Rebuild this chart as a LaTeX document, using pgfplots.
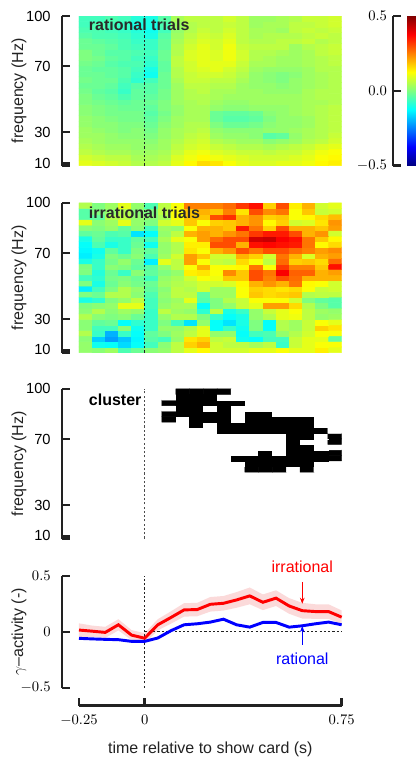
\documentclass[border=0pt]{standalone}
\usepackage[no-math]{fontspec}
\setmainfont{Liberation Sans}
\usepackage{pgfplots}
\usepackage{pgfplotstable}
\pgfplotsset{compat=1.18}
\usetikzlibrary{arrows.meta}

\definecolor{spine}{HTML}{222222}
\definecolor{titlegray}{HTML}{2A2A2A}
\definecolor{bandred}{HTML}{FBDADA}
\definecolor{linered}{HTML}{FF0000}
\definecolor{lineblue}{HTML}{0000FF}

% gamma power, time-frequency cells: c = time bin (0..19, 50 ms each from -0.25 s),
% r = frequency row (0..26, bottom to top, 8.5..100 Hz)
\pgfplotstableread[row sep=\\]{
c r v\\
0 0 0.10\\ 1 0 0.09\\ 2 0 0.08\\ 3 0 0.07\\ 4 0 0.05\\ 5 0 0.05\\ 6 0 0.06\\ 7 0 0.10\\ 8 0 0.13\\ 9 0 0.16\\ 10 0 0.15\\ 11 0 0.12\\ 12 0 0.10\\ 13 0 0.09\\ 14 0 0.09\\ 15 0 0.10\\ 16 0 0.10\\ 17 0 0.11\\ 18 0 0.13\\ 19 0 0.14\\
0 1 0.08\\ 1 1 0.07\\ 2 1 0.06\\ 3 1 0.06\\ 4 1 0.04\\ 5 1 0.04\\ 6 1 0.05\\ 7 1 0.09\\ 8 1 0.11\\ 9 1 0.13\\ 10 1 0.11\\ 11 1 0.10\\ 12 1 0.09\\ 13 1 0.08\\ 14 1 0.08\\ 15 1 0.08\\ 16 1 0.09\\ 17 1 0.10\\ 18 1 0.12\\ 19 1 0.13\\
0 2 0.06\\ 1 2 0.05\\ 2 2 0.04\\ 3 2 0.04\\ 4 2 0.03\\ 5 2 0.03\\ 6 2 0.04\\ 7 2 0.07\\ 8 2 0.10\\ 9 2 0.11\\ 10 2 0.09\\ 11 2 0.08\\ 12 2 0.07\\ 13 2 0.07\\ 14 2 0.06\\ 15 2 0.07\\ 16 2 0.07\\ 17 2 0.09\\ 18 2 0.11\\ 19 2 0.12\\
0 3 0.05\\ 1 3 0.04\\ 2 3 0.03\\ 3 3 0.03\\ 4 3 0.02\\ 5 3 0.02\\ 6 3 0.03\\ 7 3 0.06\\ 8 3 0.08\\ 9 3 0.09\\ 10 3 0.07\\ 11 3 0.06\\ 12 3 0.05\\ 13 3 0.05\\ 14 3 0.04\\ 15 3 0.05\\ 16 3 0.06\\ 17 3 0.07\\ 18 3 0.09\\ 19 3 0.10\\
0 4 0.04\\ 1 4 0.03\\ 2 4 0.02\\ 3 4 0.02\\ 4 4 0.02\\ 5 4 0.01\\ 6 4 0.03\\ 7 4 0.05\\ 8 4 0.07\\ 9 4 0.08\\ 10 4 0.05\\ 11 4 0.04\\ 12 4 0.03\\ 13 4 0.03\\ 14 4 0.01\\ 15 4 0.02\\ 16 4 0.03\\ 17 4 0.05\\ 18 4 0.06\\ 19 4 0.08\\
0 5 0.03\\ 1 5 0.03\\ 2 5 0.02\\ 3 5 0.01\\ 4 5 0.01\\ 5 5 0.00\\ 6 5 0.02\\ 7 5 0.04\\ 8 5 0.06\\ 9 5 0.07\\ 10 5 0.03\\ 11 5 0.02\\ 12 5 0.02\\ 13 5 0.01\\ 14 5 -0.04\\ 15 5 -0.03\\ 16 5 0.02\\ 17 5 0.04\\ 18 5 0.05\\ 19 5 0.07\\
0 6 0.03\\ 1 6 0.02\\ 2 6 0.01\\ 3 6 0.00\\ 4 6 0.01\\ 5 6 -0.01\\ 6 6 0.02\\ 7 6 0.04\\ 8 6 0.05\\ 9 6 0.06\\ 10 6 0.02\\ 11 6 0.01\\ 12 6 0.01\\ 13 6 0.01\\ 14 6 0.02\\ 15 6 0.02\\ 16 6 0.03\\ 17 6 0.04\\ 18 6 0.05\\ 19 6 0.06\\
0 7 0.02\\ 1 7 0.01\\ 2 7 0.01\\ 3 7 0.00\\ 4 7 0.00\\ 5 7 -0.02\\ 6 7 0.01\\ 7 7 0.03\\ 8 7 0.05\\ 9 7 0.05\\ 10 7 0.00\\ 11 7 -0.02\\ 12 7 -0.02\\ 13 7 -0.01\\ 14 7 0.01\\ 15 7 0.02\\ 16 7 0.02\\ 17 7 0.03\\ 18 7 0.05\\ 19 7 0.06\\
0 8 0.02\\ 1 8 0.01\\ 2 8 0.00\\ 3 8 -0.01\\ 4 8 -0.01\\ 5 8 -0.03\\ 6 8 0.00\\ 7 8 0.03\\ 8 8 0.04\\ 9 8 0.04\\ 10 8 -0.02\\ 11 8 -0.04\\ 12 8 -0.04\\ 13 8 -0.03\\ 14 8 0.00\\ 15 8 0.02\\ 16 8 0.02\\ 17 8 0.03\\ 18 8 0.05\\ 19 8 0.06\\
0 9 0.01\\ 1 9 0.00\\ 2 9 -0.01\\ 3 9 -0.01\\ 4 9 -0.01\\ 5 9 -0.04\\ 6 9 -0.01\\ 7 9 0.02\\ 8 9 0.04\\ 9 9 0.04\\ 10 9 -0.02\\ 11 9 -0.03\\ 12 9 -0.03\\ 13 9 -0.02\\ 14 9 0.01\\ 15 9 0.02\\ 16 9 0.03\\ 17 9 0.04\\ 18 9 0.05\\ 19 9 0.06\\
0 10 0.01\\ 1 10 0.00\\ 2 10 -0.01\\ 3 10 -0.02\\ 4 10 -0.02\\ 5 10 -0.03\\ 6 10 0.00\\ 7 10 0.02\\ 8 10 0.04\\ 9 10 0.04\\ 10 10 0.02\\ 11 10 0.01\\ 12 10 0.01\\ 13 10 0.02\\ 14 10 0.02\\ 15 10 0.02\\ 16 10 0.03\\ 17 10 0.04\\ 18 10 0.05\\ 19 10 0.06\\
0 11 0.00\\ 1 11 -0.01\\ 2 11 -0.02\\ 3 11 -0.03\\ 4 11 -0.02\\ 5 11 -0.02\\ 6 11 0.00\\ 7 11 0.03\\ 8 11 0.04\\ 9 11 0.05\\ 10 11 0.03\\ 11 11 0.02\\ 12 11 0.02\\ 13 11 0.03\\ 14 11 0.03\\ 15 11 0.03\\ 16 11 0.03\\ 17 11 0.04\\ 18 11 0.04\\ 19 11 0.05\\
0 12 0.00\\ 1 12 -0.02\\ 2 12 -0.03\\ 3 12 -0.05\\ 4 12 -0.03\\ 5 12 -0.03\\ 6 12 -0.01\\ 7 12 0.03\\ 8 12 0.05\\ 9 12 0.05\\ 10 12 0.04\\ 11 12 0.03\\ 12 12 0.03\\ 13 12 0.03\\ 14 12 0.03\\ 15 12 0.03\\ 16 12 0.03\\ 17 12 0.04\\ 18 12 0.05\\ 19 12 0.05\\
0 13 -0.01\\ 1 13 -0.03\\ 2 13 -0.04\\ 3 13 -0.07\\ 4 13 -0.03\\ 5 13 -0.04\\ 6 13 -0.01\\ 7 13 0.03\\ 8 13 0.05\\ 9 13 0.06\\ 10 13 0.04\\ 11 13 0.04\\ 12 13 0.03\\ 13 13 0.03\\ 14 13 0.02\\ 15 13 0.02\\ 16 13 0.02\\ 17 13 0.04\\ 18 13 0.05\\ 19 13 0.05\\
0 14 -0.02\\ 1 14 -0.02\\ 2 14 -0.03\\ 3 14 -0.06\\ 4 14 -0.04\\ 5 14 -0.04\\ 6 14 -0.02\\ 7 14 0.03\\ 8 14 0.06\\ 9 14 0.06\\ 10 14 0.05\\ 11 14 0.05\\ 12 14 0.03\\ 13 14 0.02\\ 14 14 0.02\\ 15 14 0.01\\ 16 14 0.02\\ 17 14 0.03\\ 18 14 0.04\\ 19 14 0.05\\
0 15 -0.01\\ 1 15 -0.02\\ 2 15 -0.02\\ 3 15 -0.05\\ 4 15 -0.08\\ 5 15 -0.06\\ 6 15 -0.02\\ 7 15 0.04\\ 8 15 0.07\\ 9 15 0.07\\ 10 15 0.06\\ 11 15 0.06\\ 12 15 0.04\\ 13 15 0.02\\ 14 15 0.01\\ 15 15 0.00\\ 16 15 0.02\\ 17 15 0.03\\ 18 15 0.04\\ 19 15 0.05\\
0 16 -0.02\\ 1 16 -0.02\\ 2 16 -0.03\\ 3 16 -0.04\\ 4 16 -0.07\\ 5 16 -0.11\\ 6 16 -0.02\\ 7 16 0.05\\ 8 16 0.07\\ 9 16 0.08\\ 10 16 0.08\\ 11 16 0.07\\ 12 16 0.05\\ 13 16 0.02\\ 14 16 0.01\\ 15 16 0.00\\ 16 16 0.01\\ 17 16 0.03\\ 18 16 0.04\\ 19 16 0.05\\
0 17 -0.02\\ 1 17 -0.03\\ 2 17 -0.03\\ 3 17 -0.04\\ 4 17 -0.06\\ 5 17 -0.10\\ 6 17 -0.03\\ 7 17 0.05\\ 8 17 0.08\\ 9 17 0.09\\ 10 17 0.10\\ 11 17 0.08\\ 12 17 0.06\\ 13 17 0.03\\ 14 17 0.02\\ 15 17 0.02\\ 16 17 0.02\\ 17 17 0.03\\ 18 17 0.05\\ 19 17 0.05\\
0 18 -0.01\\ 1 18 -0.02\\ 2 18 -0.04\\ 3 18 -0.05\\ 4 18 -0.05\\ 5 18 -0.08\\ 6 18 -0.03\\ 7 18 0.06\\ 8 18 0.08\\ 9 18 0.10\\ 10 18 0.10\\ 11 18 0.10\\ 12 18 0.07\\ 13 18 0.04\\ 14 18 0.04\\ 15 18 0.03\\ 16 18 0.03\\ 17 18 0.04\\ 18 18 0.05\\ 19 18 0.06\\
0 19 0.00\\ 1 19 -0.01\\ 2 19 -0.03\\ 3 19 -0.04\\ 4 19 -0.06\\ 5 19 -0.07\\ 6 19 -0.02\\ 7 19 0.06\\ 8 19 0.09\\ 9 19 0.10\\ 10 19 0.09\\ 11 19 0.11\\ 12 19 0.08\\ 13 19 0.05\\ 14 19 0.04\\ 15 19 0.03\\ 16 19 0.03\\ 17 19 0.04\\ 18 19 0.05\\ 19 19 0.06\\
0 20 0.00\\ 1 20 -0.02\\ 2 20 -0.04\\ 3 20 -0.04\\ 4 20 -0.05\\ 5 20 -0.06\\ 6 20 -0.02\\ 7 20 0.05\\ 8 20 0.09\\ 9 20 0.10\\ 10 20 0.09\\ 11 20 0.11\\ 12 20 0.08\\ 13 20 0.05\\ 14 20 0.05\\ 15 20 0.04\\ 16 20 0.03\\ 17 20 0.04\\ 18 20 0.06\\ 19 20 0.07\\
0 21 -0.02\\ 1 21 -0.02\\ 2 21 -0.03\\ 3 21 -0.05\\ 4 21 -0.06\\ 5 21 -0.07\\ 6 21 -0.03\\ 7 21 0.05\\ 8 21 0.08\\ 9 21 0.10\\ 10 21 0.08\\ 11 21 0.11\\ 12 21 0.07\\ 13 21 0.06\\ 14 21 0.06\\ 15 21 0.06\\ 16 21 0.03\\ 17 21 0.05\\ 18 21 0.06\\ 19 21 0.07\\
0 22 -0.02\\ 1 22 -0.03\\ 2 22 -0.04\\ 3 22 -0.05\\ 4 22 -0.07\\ 5 22 -0.07\\ 6 22 -0.03\\ 7 22 0.04\\ 8 22 0.07\\ 9 22 0.09\\ 10 22 0.08\\ 11 22 0.10\\ 12 22 0.06\\ 13 22 0.05\\ 14 22 0.05\\ 15 22 0.06\\ 16 22 0.06\\ 17 22 0.07\\ 18 22 0.05\\ 19 22 0.06\\
0 23 -0.04\\ 1 23 -0.05\\ 2 23 -0.05\\ 3 23 -0.06\\ 4 23 -0.08\\ 5 23 -0.10\\ 6 23 -0.04\\ 7 23 0.03\\ 8 23 0.06\\ 9 23 0.08\\ 10 23 0.07\\ 11 23 0.09\\ 12 23 0.06\\ 13 23 0.04\\ 14 23 0.05\\ 15 23 0.05\\ 16 23 0.05\\ 17 23 0.06\\ 18 23 0.07\\ 19 23 0.06\\
0 24 -0.05\\ 1 24 -0.05\\ 2 24 -0.06\\ 3 24 -0.07\\ 4 24 -0.09\\ 5 24 -0.11\\ 6 24 -0.06\\ 7 24 0.02\\ 8 24 0.05\\ 9 24 0.07\\ 10 24 0.06\\ 11 24 0.08\\ 12 24 0.06\\ 13 24 0.04\\ 14 24 0.04\\ 15 24 0.03\\ 16 24 0.06\\ 17 24 0.07\\ 18 24 0.06\\ 19 24 0.07\\
0 25 -0.06\\ 1 25 -0.05\\ 2 25 -0.06\\ 3 25 -0.07\\ 4 25 -0.10\\ 5 25 -0.10\\ 6 25 -0.05\\ 7 25 0.03\\ 8 25 0.05\\ 9 25 0.06\\ 10 25 0.06\\ 11 25 0.07\\ 12 25 0.06\\ 13 25 0.03\\ 14 25 0.04\\ 15 25 0.04\\ 16 25 0.06\\ 17 25 0.06\\ 18 25 0.07\\ 19 25 0.08\\
0 26 -0.06\\ 1 26 -0.06\\ 2 26 -0.05\\ 3 26 -0.06\\ 4 26 -0.09\\ 5 26 -0.10\\ 6 26 -0.04\\ 7 26 0.04\\ 8 26 0.06\\ 9 26 0.06\\ 10 26 0.06\\ 11 26 0.08\\ 12 26 0.06\\ 13 26 0.03\\ 14 26 0.03\\ 15 26 0.04\\ 16 26 0.05\\ 17 26 0.07\\ 18 26 0.07\\ 19 26 0.08\\
}\rationaltf

\pgfplotstableread[row sep=\\]{
c r v\\
0 0 0.02\\ 1 0 0.01\\ 2 0 0.03\\ 3 0 -0.05\\ 4 0 -0.02\\ 5 0 0.01\\ 6 0 0.02\\ 7 0 0.06\\ 8 0 0.10\\ 9 0 0.13\\ 10 0 0.08\\ 11 0 0.08\\ 12 0 0.08\\ 13 0 0.10\\ 14 0 0.10\\ 15 0 0.12\\ 16 0 0.10\\ 17 0 0.10\\ 18 0 0.14\\ 19 0 0.10\\
0 1 0.02\\ 1 1 -0.11\\ 2 1 -0.12\\ 3 1 -0.16\\ 4 1 -0.12\\ 5 1 -0.06\\ 6 1 0.01\\ 7 1 0.06\\ 8 1 0.17\\ 9 1 0.20\\ 10 1 0.08\\ 11 1 0.06\\ 12 1 0.06\\ 13 1 0.04\\ 14 1 0.06\\ 15 1 -0.07\\ 16 1 0.07\\ 17 1 0.10\\ 18 1 0.12\\ 19 1 0.12\\
0 2 0.01\\ 1 2 -0.17\\ 2 2 -0.22\\ 3 2 -0.18\\ 4 2 -0.13\\ 5 2 -0.04\\ 6 2 -0.06\\ 7 2 0.02\\ 8 2 0.15\\ 9 2 0.17\\ 10 2 0.06\\ 11 2 0.07\\ 12 2 -0.11\\ 13 2 -0.12\\ 14 2 -0.06\\ 15 2 -0.06\\ 16 2 0.07\\ 17 2 0.10\\ 18 2 0.10\\ 19 2 -0.03\\
0 3 0.05\\ 1 3 -0.07\\ 2 3 -0.20\\ 3 3 -0.07\\ 4 3 -0.12\\ 5 3 -0.03\\ 6 3 0.00\\ 7 3 0.03\\ 8 3 0.06\\ 9 3 0.10\\ 10 3 0.02\\ 11 3 0.02\\ 12 3 -0.12\\ 13 3 -0.06\\ 14 3 -0.05\\ 15 3 0.02\\ 16 3 0.05\\ 17 3 0.08\\ 18 3 0.12\\ 19 3 0.12\\
0 4 0.01\\ 1 4 -0.06\\ 2 4 -0.06\\ 3 4 0.01\\ 4 4 -0.11\\ 5 4 -0.07\\ 6 4 0.02\\ 7 4 0.02\\ 8 4 0.05\\ 9 4 0.10\\ 10 4 -0.12\\ 11 4 -0.07\\ 12 4 -0.11\\ 13 4 0.00\\ 14 4 -0.12\\ 15 4 0.05\\ 16 4 0.03\\ 17 4 0.07\\ 18 4 0.17\\ 19 4 0.15\\
0 5 0.01\\ 1 5 -0.03\\ 2 5 -0.02\\ 3 5 -0.12\\ 4 5 -0.08\\ 5 5 -0.07\\ 6 5 0.00\\ 7 5 -0.06\\ 8 5 -0.15\\ 9 5 0.02\\ 10 5 -0.12\\ 11 5 -0.15\\ 12 5 -0.10\\ 13 5 0.00\\ 14 5 -0.12\\ 15 5 0.05\\ 16 5 0.03\\ 17 5 0.07\\ 18 5 0.12\\ 19 5 0.10\\
0 6 0.05\\ 1 6 0.01\\ 2 6 0.00\\ 3 6 0.01\\ 4 6 -0.02\\ 5 6 -0.07\\ 6 6 0.02\\ 7 6 0.05\\ 8 6 0.05\\ 9 6 0.00\\ 10 6 -0.07\\ 11 6 -0.12\\ 12 6 -0.10\\ 13 6 0.02\\ 14 6 0.05\\ 15 6 0.10\\ 16 6 0.11\\ 17 6 0.06\\ 18 6 0.02\\ 19 6 0.03\\
0 7 0.01\\ 1 7 0.05\\ 2 7 0.01\\ 3 7 0.03\\ 4 7 0.02\\ 5 7 -0.07\\ 6 7 0.06\\ 7 7 0.03\\ 8 7 0.02\\ 9 7 -0.08\\ 10 7 0.06\\ 11 7 -0.10\\ 12 7 -0.07\\ 13 7 0.02\\ 14 7 0.07\\ 15 7 0.10\\ 16 7 0.12\\ 17 7 0.06\\ 18 7 0.03\\ 19 7 0.02\\
0 8 0.00\\ 1 8 0.01\\ 2 8 0.02\\ 3 8 0.10\\ 4 8 0.10\\ 5 8 -0.06\\ 6 8 0.02\\ 7 8 0.04\\ 8 8 0.04\\ 9 8 -0.12\\ 10 8 0.00\\ 11 8 0.02\\ 12 8 0.07\\ 13 8 0.10\\ 14 8 0.22\\ 15 8 0.22\\ 16 8 0.16\\ 17 8 0.05\\ 18 8 0.00\\ 19 8 -0.04\\
0 9 -0.10\\ 1 9 -0.08\\ 2 9 0.00\\ 3 9 0.02\\ 4 9 0.06\\ 5 9 -0.06\\ 6 9 0.01\\ 7 9 0.03\\ 8 9 0.10\\ 9 9 -0.04\\ 10 9 0.00\\ 11 9 0.05\\ 12 9 0.07\\ 13 9 0.12\\ 14 9 0.12\\ 15 9 0.12\\ 16 9 0.08\\ 17 9 0.00\\ 18 9 -0.03\\ 19 9 -0.04\\
0 10 0.00\\ 1 10 -0.02\\ 2 10 0.05\\ 3 10 0.05\\ 4 10 0.01\\ 5 10 -0.05\\ 6 10 0.02\\ 7 10 0.06\\ 8 10 0.06\\ 9 10 -0.03\\ 10 10 0.03\\ 11 10 0.03\\ 12 10 0.12\\ 13 10 0.18\\ 14 10 0.16\\ 15 10 0.17\\ 16 10 0.18\\ 17 10 0.05\\ 18 10 0.06\\ 19 10 0.06\\
0 11 -0.14\\ 1 11 -0.06\\ 2 11 0.00\\ 3 11 0.05\\ 4 11 0.02\\ 5 11 -0.03\\ 6 11 0.01\\ 7 11 0.06\\ 8 11 0.05\\ 9 11 0.08\\ 10 11 0.03\\ 11 11 0.03\\ 12 11 0.12\\ 13 11 0.17\\ 14 11 0.16\\ 15 11 0.15\\ 16 11 0.16\\ 17 11 0.12\\ 18 11 0.07\\ 19 11 0.08\\
0 12 0.00\\ 1 12 -0.10\\ 2 12 -0.02\\ 3 12 0.01\\ 4 12 -0.01\\ 5 12 -0.02\\ 6 12 0.03\\ 7 12 0.05\\ 8 12 0.06\\ 9 12 0.08\\ 10 12 0.08\\ 11 12 0.09\\ 12 12 0.13\\ 13 12 0.20\\ 14 12 0.23\\ 15 12 0.20\\ 16 12 0.26\\ 17 12 0.13\\ 18 12 0.12\\ 19 12 0.08\\
0 13 -0.06\\ 1 13 -0.08\\ 2 13 -0.01\\ 3 13 0.00\\ 4 13 -0.02\\ 5 13 -0.06\\ 6 13 0.02\\ 7 13 0.04\\ 8 13 0.08\\ 9 13 0.12\\ 10 13 0.11\\ 11 13 0.18\\ 12 13 0.18\\ 13 13 0.30\\ 14 13 0.25\\ 15 13 0.30\\ 16 13 0.27\\ 17 13 0.20\\ 18 13 0.20\\ 19 13 0.20\\
0 14 0.00\\ 1 14 -0.09\\ 2 14 -0.02\\ 3 14 -0.07\\ 4 14 0.01\\ 5 14 -0.03\\ 6 14 0.00\\ 7 14 0.02\\ 8 14 0.14\\ 9 14 0.15\\ 10 14 0.12\\ 11 14 0.24\\ 12 14 0.18\\ 13 14 0.30\\ 14 14 0.26\\ 15 14 0.38\\ 16 14 0.28\\ 17 14 0.28\\ 18 14 0.20\\ 19 14 0.22\\
0 15 0.00\\ 1 15 -0.07\\ 2 15 0.01\\ 3 15 0.00\\ 4 15 -0.03\\ 5 15 -0.04\\ 6 15 0.02\\ 7 15 0.06\\ 8 15 0.12\\ 9 15 0.20\\ 10 15 0.12\\ 11 15 0.12\\ 12 15 0.13\\ 13 15 0.26\\ 14 15 0.12\\ 15 15 0.32\\ 16 15 0.25\\ 17 15 0.25\\ 18 15 0.18\\ 19 15 0.36\\
0 16 -0.10\\ 1 16 -0.07\\ 2 16 -0.01\\ 3 16 0.02\\ 4 16 -0.02\\ 5 16 -0.14\\ 6 16 0.10\\ 7 16 0.06\\ 8 16 0.22\\ 9 16 0.12\\ 10 16 0.07\\ 11 16 0.06\\ 12 16 0.16\\ 13 16 0.12\\ 14 16 0.06\\ 15 16 0.27\\ 16 16 0.17\\ 17 16 0.18\\ 18 16 0.16\\ 19 16 0.27\\
0 17 -0.14\\ 1 17 -0.10\\ 2 17 0.00\\ 3 17 -0.02\\ 4 17 0.01\\ 5 17 -0.05\\ 6 17 0.03\\ 7 17 0.08\\ 8 17 0.22\\ 9 17 0.18\\ 10 17 0.08\\ 11 17 0.08\\ 12 17 0.20\\ 13 17 0.17\\ 14 17 0.08\\ 15 17 0.26\\ 16 17 0.20\\ 17 17 0.09\\ 18 17 0.20\\ 19 17 0.22\\
0 18 -0.13\\ 1 18 -0.11\\ 2 18 -0.03\\ 3 18 -0.07\\ 4 18 0.00\\ 5 18 -0.03\\ 6 18 0.02\\ 7 18 0.05\\ 8 18 0.15\\ 9 18 0.12\\ 10 18 0.20\\ 11 18 0.23\\ 12 18 0.30\\ 13 18 0.26\\ 14 18 0.30\\ 15 18 0.30\\ 16 18 0.27\\ 17 18 0.25\\ 18 18 0.22\\ 19 18 0.24\\
0 19 -0.12\\ 1 19 -0.05\\ 2 19 -0.10\\ 3 19 -0.07\\ 4 19 -0.02\\ 5 19 -0.11\\ 6 19 0.02\\ 7 19 0.05\\ 8 19 0.14\\ 9 19 0.14\\ 10 19 0.30\\ 11 19 0.30\\ 12 19 0.20\\ 13 19 0.36\\ 14 19 0.37\\ 15 19 0.36\\ 16 19 0.35\\ 17 19 0.26\\ 18 19 0.13\\ 19 19 0.16\\
0 20 -0.10\\ 1 20 -0.03\\ 2 20 -0.07\\ 3 20 -0.07\\ 4 20 -0.03\\ 5 20 -0.06\\ 6 20 0.04\\ 7 20 0.10\\ 8 20 0.12\\ 9 20 0.22\\ 10 20 0.27\\ 11 20 0.30\\ 12 20 0.30\\ 13 20 0.42\\ 14 20 0.43\\ 15 20 0.38\\ 16 20 0.36\\ 17 20 0.26\\ 18 20 0.18\\ 19 20 0.13\\
0 21 -0.03\\ 1 21 -0.02\\ 2 21 -0.05\\ 3 21 -0.04\\ 4 21 -0.15\\ 5 21 -0.12\\ 6 21 0.02\\ 7 21 0.06\\ 8 21 0.20\\ 9 21 0.22\\ 10 21 0.20\\ 11 21 0.23\\ 12 21 0.26\\ 13 21 0.32\\ 14 21 0.35\\ 15 21 0.35\\ 16 21 0.30\\ 17 21 0.20\\ 18 21 0.23\\ 19 21 0.08\\
0 22 0.01\\ 1 22 0.00\\ 2 22 0.02\\ 3 22 -0.03\\ 4 22 0.01\\ 5 22 -0.06\\ 6 22 0.03\\ 7 22 0.02\\ 8 22 0.12\\ 9 22 0.20\\ 10 22 0.20\\ 11 22 0.18\\ 12 22 0.35\\ 13 22 0.26\\ 14 22 0.17\\ 15 22 0.30\\ 16 22 0.20\\ 17 22 0.20\\ 18 22 0.18\\ 19 22 0.22\\
0 23 0.10\\ 1 23 0.01\\ 2 23 0.03\\ 3 23 0.10\\ 4 23 0.02\\ 5 23 0.00\\ 6 23 0.08\\ 7 23 0.10\\ 8 23 0.18\\ 9 23 0.12\\ 10 23 0.17\\ 11 23 0.18\\ 12 23 0.20\\ 13 23 0.23\\ 14 23 0.13\\ 15 23 0.17\\ 16 23 0.08\\ 17 23 0.09\\ 18 23 0.15\\ 19 23 0.23\\
0 24 -0.04\\ 1 24 -0.03\\ 2 24 0.05\\ 3 24 0.06\\ 4 24 0.02\\ 5 24 0.01\\ 6 24 0.04\\ 7 24 0.12\\ 8 24 0.18\\ 9 24 0.18\\ 10 24 0.30\\ 11 24 0.33\\ 12 24 0.20\\ 13 24 0.23\\ 14 24 0.17\\ 15 24 0.18\\ 16 24 0.12\\ 17 24 0.13\\ 18 24 0.16\\ 19 24 0.19\\
0 25 -0.04\\ 1 25 0.00\\ 2 25 0.02\\ 3 25 0.05\\ 4 25 0.01\\ 5 25 0.00\\ 6 25 0.06\\ 7 25 0.12\\ 8 25 0.18\\ 9 25 0.20\\ 10 25 0.18\\ 11 25 0.25\\ 12 25 0.15\\ 13 25 0.30\\ 14 25 0.24\\ 15 25 0.26\\ 16 25 0.12\\ 17 25 0.18\\ 18 25 0.07\\ 19 25 0.08\\
0 26 0.05\\ 1 26 0.00\\ 2 26 0.03\\ 3 26 0.10\\ 4 26 0.02\\ 5 26 -0.05\\ 6 26 0.06\\ 7 26 0.12\\ 8 26 0.25\\ 9 26 0.25\\ 10 26 0.25\\ 11 26 0.27\\ 12 26 0.32\\ 13 26 0.36\\ 14 26 0.17\\ 15 26 0.30\\ 16 26 0.14\\ 17 26 0.20\\ 18 26 0.08\\ 19 26 0.10\\
}\irrationaltf

% significant cluster: j = time bin of a 19-bin grid (cells 6..18), r = frequency row (12..26)
\pgfplotstableread[row sep=\\]{
j r m\\
6 12 0\\ 7 12 0\\ 8 12 0\\ 9 12 0\\ 10 12 0\\ 11 12 0\\ 12 12 1\\ 13 12 1\\ 14 12 1\\ 15 12 0\\ 16 12 1\\ 17 12 0\\ 18 12 0\\
6 13 0\\ 7 13 0\\ 8 13 0\\ 9 13 0\\ 10 13 0\\ 11 13 0\\ 12 13 1\\ 13 13 1\\ 14 13 1\\ 15 13 1\\ 16 13 1\\ 17 13 0\\ 18 13 0\\
6 14 0\\ 7 14 0\\ 8 14 0\\ 9 14 0\\ 10 14 0\\ 11 14 1\\ 12 14 1\\ 13 14 1\\ 14 14 1\\ 15 14 1\\ 16 14 1\\ 17 14 1\\ 18 14 1\\
6 15 0\\ 7 15 0\\ 8 15 0\\ 9 15 0\\ 10 15 0\\ 11 15 0\\ 12 15 0\\ 13 15 1\\ 14 15 0\\ 15 15 1\\ 16 15 1\\ 17 15 1\\ 18 15 1\\
6 16 0\\ 7 16 0\\ 8 16 0\\ 9 16 0\\ 10 16 0\\ 11 16 0\\ 12 16 0\\ 13 16 0\\ 14 16 0\\ 15 16 1\\ 16 16 1\\ 17 16 0\\ 18 16 0\\
6 17 0\\ 7 17 0\\ 8 17 0\\ 9 17 0\\ 10 17 0\\ 11 17 0\\ 12 17 0\\ 13 17 0\\ 14 17 0\\ 15 17 1\\ 16 17 0\\ 17 17 0\\ 18 17 1\\
6 18 0\\ 7 18 0\\ 8 18 0\\ 9 18 0\\ 10 18 0\\ 11 18 0\\ 12 18 0\\ 13 18 0\\ 14 18 0\\ 15 18 1\\ 16 18 1\\ 17 18 0\\ 18 18 1\\
6 19 0\\ 7 19 0\\ 8 19 0\\ 9 19 0\\ 10 19 1\\ 11 19 1\\ 12 19 1\\ 13 19 1\\ 14 19 1\\ 15 19 1\\ 16 19 1\\ 17 19 1\\ 18 19 0\\
6 20 0\\ 7 20 0\\ 8 20 1\\ 9 20 0\\ 10 20 1\\ 11 20 1\\ 12 20 1\\ 13 20 1\\ 14 20 1\\ 15 20 1\\ 16 20 1\\ 17 20 0\\ 18 20 0\\
6 21 1\\ 7 21 0\\ 8 21 1\\ 9 21 1\\ 10 21 1\\ 11 21 0\\ 12 21 1\\ 13 21 1\\ 14 21 1\\ 15 21 1\\ 16 21 1\\ 17 21 0\\ 18 21 0\\
6 22 1\\ 7 22 1\\ 8 22 1\\ 9 22 1\\ 10 22 1\\ 11 22 0\\ 12 22 1\\ 13 22 1\\ 14 22 0\\ 15 22 0\\ 16 22 0\\ 17 22 0\\ 18 22 0\\
6 23 0\\ 7 23 1\\ 8 23 1\\ 9 23 0\\ 10 23 1\\ 11 23 0\\ 12 23 0\\ 13 23 0\\ 14 23 0\\ 15 23 0\\ 16 23 0\\ 17 23 0\\ 18 23 0\\
6 24 1\\ 7 24 1\\ 8 24 1\\ 9 24 1\\ 10 24 1\\ 11 24 1\\ 12 24 0\\ 13 24 0\\ 14 24 0\\ 15 24 0\\ 16 24 0\\ 17 24 0\\ 18 24 0\\
6 25 0\\ 7 25 1\\ 8 25 1\\ 9 25 1\\ 10 25 0\\ 11 25 0\\ 12 25 0\\ 13 25 0\\ 14 25 0\\ 15 25 0\\ 16 25 0\\ 17 25 0\\ 18 25 0\\
6 26 0\\ 7 26 1\\ 8 26 1\\ 9 26 1\\ 10 26 1\\ 11 26 0\\ 12 26 0\\ 13 26 0\\ 14 26 0\\ 15 26 0\\ 16 26 0\\ 17 26 0\\ 18 26 0\\
}\clustermask

% gamma activity over time: irrational and rational means
\pgfplotstableread{
t      irr     rat
-0.25  0.015  -0.059
-0.20  0.005  -0.064
-0.15 -0.006  -0.068
-0.10  0.062  -0.071
-0.05 -0.030  -0.086
 0.00 -0.058  -0.086
 0.05  0.062  -0.056
 0.10  0.127   0.009
 0.15  0.195   0.062
 0.20  0.198   0.071
 0.25  0.245   0.086
 0.30  0.254   0.112
 0.35  0.284   0.062
 0.40  0.320   0.041
 0.45  0.263   0.083
 0.50  0.300   0.083
 0.55  0.230   0.041
 0.60  0.188   0.053
 0.65  0.180   0.071
 0.70  0.180   0.086
 0.75  0.130   0.062
}\gammaact

% error band of the irrational mean: upper edge forward, lower edge back
\pgfplotstableread{
t      y
-0.25  0.075
-0.20  0.055
-0.15  0.044
-0.10  0.112
-0.05  0.015
 0.00 -0.013
 0.05  0.112
 0.10  0.182
 0.15  0.255
 0.20  0.258
 0.25  0.310
 0.30  0.319
 0.35  0.354
 0.40  0.395
 0.45  0.333
 0.50  0.370
 0.55  0.300
 0.60  0.258
 0.65  0.245
 0.70  0.245
 0.75  0.190
 0.75  0.070
 0.70  0.115
 0.65  0.115
 0.60  0.118
 0.55  0.160
 0.50  0.230
 0.45  0.193
 0.40  0.245
 0.35  0.214
 0.30  0.189
 0.25  0.180
 0.20  0.138
 0.15  0.135
 0.10  0.072
 0.05  0.012
 0.00 -0.103
-0.05 -0.075
-0.10  0.012
-0.15 -0.056
-0.20 -0.045
-0.25 -0.045
}\irrband

\tikzset{
  panel title/.style={anchor=west, font=\fontsize{12}{14}\selectfont\bfseries, text=titlegray},
  zero line/.style={spine, line width=0.8pt, dash pattern=on 1.6pt off 1.6pt},
}

\pgfplotsset{
  spine axis/.style={
    scale only axis,
    axis y line*=left,
    axis y line shift=12.75pt,
    axis line style={line width=2pt, spine},
    tick style={line width=1.8pt, spine},
    major tick length=6pt,
    tick align=inside,
    tick label style={font=\fontsize{11}{13}\selectfont},
    yticklabel style={xshift=-5pt},
    every axis y label/.style={at={(rel axis cs:0,0.5)}, xshift=-45pt, rotate=90,
      anchor=center, font=\fontsize{12}{14}\selectfont, text=spine},
  },
  tf axis/.style={
    spine axis,
    width=197pt, height=112.2pt,
    hide x axis,
    xmin=-0.5, xmax=19.5, ymin=-0.5, ymax=26.5,
    ytick={-0.5,-0.03,5.51,17.47,26.5},
    yticklabels={,10,30,70,100},
    ylabel={frequency (Hz)},
    colormap/jet,
    point meta min=-0.5, point meta max=0.5,
  },
}

\begin{document}
\begin{tikzpicture}
\useasboundingbox (0,0) rectangle (312pt,568.5pt);

% rational trials
\begin{axis}[
  tf axis,
  at={(59.25pt,444.3pt)}, anchor=south west,
  colorbar,
  colorbar style={
    at={(parent axis.north east)}, anchor=north west, xshift=40.5pt,
    width=6.75pt,
    axis x line=none,
    axis y line*=left, axis y line shift=10.5pt,
    axis line style={line width=2pt, spine},
    tick style={line width=1.8pt, spine},
    major tick length=6pt, tick align=inside,
    ytick={-0.5,0,0.5},
    yticklabel pos=left,
    yticklabel style={font=\fontsize{11}{13}\selectfont, xshift=-1pt,
      /pgf/number format/.cd, fixed, fixed zerofill, precision=1},
  },
]
\addplot[matrix plot*, mesh/cols=20, point meta=explicit]
  table[x=c, y=r, meta=v] {\rationaltf};
\draw[zero line] (axis cs:4.5,-0.5) -- (axis cs:4.5,26.5);
\node[panel title] at (rel axis cs:0.02,0.94) {rational trials};
\end{axis}

% irrational trials
\begin{axis}[
  tf axis,
  at={(59.25pt,304.1pt)}, anchor=south west,
]
\addplot[matrix plot*, mesh/cols=20, point meta=explicit]
  table[x=c, y=r, meta=v] {\irrationaltf};
\draw[zero line] (axis cs:4.5,-0.5) -- (axis cs:4.5,26.5);
\node[panel title] at (rel axis cs:0.02,0.935) {irrational trials};
\end{axis}

% cluster mask
\begin{axis}[
  tf axis,
  at={(59.25pt,164.6pt)}, anchor=south west,
  xmin=-0.5, xmax=18.5,
  colormap={mask}{color=(white) color=(black)},
  point meta min=0, point meta max=1,
]
\addplot[matrix plot*, mesh/cols=13, point meta=explicit]
  table[x=j, y=r, meta=m] {\clustermask};
\draw[zero line, black!70] (axis cs:4.25,-0.5) -- (axis cs:4.25,26.5);
\node[panel title, text=black] at (rel axis cs:0.02,0.93) {cluster};
\end{axis}

% gamma activity
\begin{axis}[
  spine axis,
  at={(59.25pt,52.7pt)}, anchor=south west,
  width=197pt, height=84pt,
  axis x line*=bottom, axis x line shift=13.5pt,
  xmin=-0.25, xmax=0.75, ymin=-0.5, ymax=0.5,
  xtick={-0.25,0,0.75}, ytick={-0.5,0,0.5},
  xticklabel style={yshift=-3.3pt},
  xlabel={time relative to show card (s)},
  ylabel={$\gamma$--activity (-)},
  every axis x label/.style={at={(rel axis cs:0.5,0)}, yshift=-46pt, anchor=center,
    font=\fontsize{12}{14}\selectfont, text=spine},
  clip=false,
]
\addplot[fill=bandred, draw=none] table[x=t, y=y] {\irrband} -- cycle;
\draw[zero line] (axis cs:0,-0.5) -- (axis cs:0,0.5);
\draw[zero line] (axis cs:0,0) -- (axis cs:0.75,0);
\addplot[linered, line width=2.2pt] table[x=t, y=irr] {\gammaact};
\addplot[lineblue, line width=2.2pt] table[x=t, y=rat] {\gammaact};
\node[text=linered, font=\fontsize{12}{14}\selectfont] at (axis cs:0.6,0.577) {irrational};
\draw[linered, line width=0.8pt, -{Stealth[length=4.5pt, width=3.5pt]}] (axis cs:0.6,0.445) -- (axis cs:0.6,0.25);
\node[text=lineblue, font=\fontsize{12}{14}\selectfont] at (axis cs:0.6,-0.24) {rational};
\draw[lineblue, line width=0.8pt, -{Stealth[length=4.5pt, width=3.5pt]}] (axis cs:0.6,-0.115) -- (axis cs:0.6,0.05);
\end{axis}
\end{tikzpicture}
\end{document}
